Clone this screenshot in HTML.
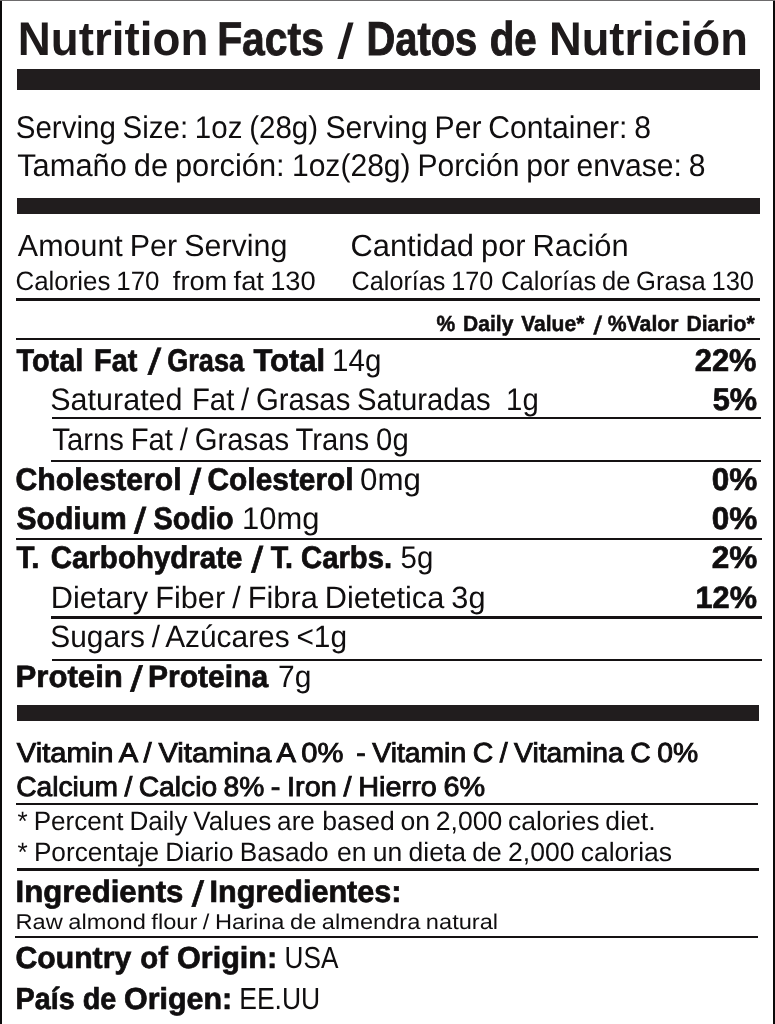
<!DOCTYPE html>
<html lang="en">
<head>
<meta charset="utf-8">
<title>Nutrition Facts / Datos de Nutrición</title>
<style>
html,body{margin:0;padding:0;background:#fff;}
body{width:775px;height:1024px;position:relative;overflow:hidden;font-family:"Liberation Sans", sans-serif;color:#100e0f;}
h1,p,header,section,footer,div{margin:0;padding:0;font:inherit;}
.label{position:absolute;left:0;top:0;width:775px;height:1024px;background:#fff;overflow:hidden;will-change:transform;text-rendering:geometricPrecision;font-family:"Liberation Sans", sans-serif;}
.ink{position:absolute;left:0;top:0;width:775px;height:1024px;filter:blur(0.45px);}
.k{position:absolute;display:block;}
.edge{background:#0b0a0a;}
.edge.top{background:#6d6b6c;}
.bar{background:#211d1e;}
.rule,.hair{background:#151213;}
.t{position:absolute;left:0;top:0;display:block;white-space:pre;line-height:0;height:0;transform-origin:0 0;font-family:"Liberation Sans", sans-serif;}
.b{font-weight:bold;-webkit-text-stroke:0.7px #100e0f;}
.r{font-weight:normal;}
.s{font-weight:normal;-webkit-text-stroke:0.9px #100e0f;}
.h{color:#1e1a1b;-webkit-text-stroke:0;}
</style>
</head>
<body>
<main class="label">
<i class="k edge left" style="left:0.00px;top:0.00px;width:2.20px;height:1024.00px"></i>
<i class="k edge right" style="left:772.80px;top:0.00px;width:2.20px;height:1024.00px"></i>
<i class="k edge top" style="left:0.00px;top:0.00px;width:775.00px;height:1.00px"></i>
<div class="ink">
<header class="title">
<h1 class="row">
<span class="t b h" style="font-size:47.42px;transform:translate(17.80px,40.10px) scaleX(0.9651)">Nutrition </span>
<span class="t b h" style="font-size:47.42px;-webkit-text-stroke:0.90px #1e1a1b;transform:translate(217.16px,40.10px) scaleX(0.8621)">Facts </span>
<span class="t b h" style="font-size:47.42px;transform-origin:0 15.00px;transform:translate(337.00px,42.51px) skewX(-6.2deg) scaleY(1.03)">/ </span>
<span class="t b h" style="font-size:47.42px;-webkit-text-stroke:1.04px #1e1a1b;transform:translate(366.48px,40.10px) scaleX(0.8402)">Datos </span>
<span class="t b h" style="font-size:47.42px;-webkit-text-stroke:0.98px #1e1a1b;transform:translate(489.65px,40.10px) scaleX(0.8497)">de </span>
<span class="t b h" style="font-size:47.42px;transform:translate(548.88px,40.10px) scaleX(0.9565)">Nutrición</span>
</h1>
<i class="k bar" style="left:16.60px;top:68.70px;width:743.90px;height:21.50px"></i>
</header>
<section class="serving">
<p class="row">
<span class="t r" style="font-size:31.42px;word-spacing:-1.57px;transform:translate(15.78px,127.60px) scaleX(0.9395)">Serving Size: 1oz (28g) </span>
<span class="t r" style="font-size:31.42px;word-spacing:-1.59px;transform:translate(325.48px,127.60px) scaleX(0.9598)">Serving Per Container: 8</span>
</p>
<p class="row">
<span class="t r" style="font-size:31.42px;word-spacing:-1.64px;transform:translate(17.18px,166.30px) scaleX(0.9811)">Tamaño de porción: </span>
<span class="t r" style="font-size:31.42px;word-spacing:-1.55px;transform:translate(291.93px,166.30px) scaleX(0.9572)">1oz(28g) Porción por envase: 8</span>
</p>
<i class="k bar" style="left:16.60px;top:198.00px;width:743.90px;height:15.80px"></i>
</section>
<section class="amount">
<div class="row">
<span class="t r" style="font-size:30.55px;word-spacing:-1.44px;transform:translate(17.87px,245.90px) scaleX(0.9965)">Amount Per Serving </span>
<span class="t r" style="font-size:30.55px;word-spacing:-1.53px;transform:translate(350.53px,245.90px) scaleX(1.0094)">Cantidad por Ración</span>
</div>
<div class="row">
<span class="t r" style="font-size:26.62px;word-spacing:-1.33px;transform:translate(15.52px,281.10px) scaleX(0.9725)">Calories 170 </span>
<span class="t r" style="font-size:26.62px;word-spacing:-1.28px;transform:translate(172.80px,281.10px) scaleX(1.0247)">from fat 130 </span>
<span class="t r" style="font-size:26.62px;word-spacing:-1.33px;transform:translate(351.57px,281.10px) scaleX(0.9477)">Calorías 170 </span>
<span class="t r" style="font-size:26.62px;word-spacing:-1.39px;transform:translate(501.09px,281.10px) scaleX(0.9598)">Calorías de Grasa 130</span>
</div>
<i class="k rule" style="left:16.30px;top:297.50px;width:744.20px;height:3.50px"></i>
</section>
<section class="daily-value">
<div class="row">
<span class="t b" style="font-size:21.96px;word-spacing:2.08px;-webkit-text-stroke:0.50px #100e0f;transform:translate(436.59px,324.30px) scaleX(0.9579)">% Daily Value* </span>
<span class="t b" style="font-size:21.96px;-webkit-text-stroke:0.50px #100e0f;transform-origin:0 7.00px;transform:translate(593.20px,326.87px) skewX(-9.0deg) scaleY(1.15)">/ </span>
<span class="t b" style="font-size:21.96px;word-spacing:2.21px;-webkit-text-stroke:0.50px #100e0f;transform:translate(607.85px,324.30px) scaleX(0.9638)">%Valor Diario*</span>
</div>
<i class="k hair" style="left:16.30px;top:337.80px;width:744.20px;height:2.20px"></i>
</section>
<section class="nutrients">
<div class="row">
<span class="t b" style="font-size:31.42px;word-spacing:3.15px;transform:translate(16.52px,360.80px) scaleX(0.9172)">Total Fat </span>
<span class="t b" style="font-size:31.42px;transform-origin:0 10.00px;transform:translate(147.50px,364.47px) skewX(-11.3deg) scaleY(1.15)">/ </span>
<span class="t b" style="font-size:31.42px;transform:translate(167.14px,360.80px) scaleX(0.8636)">Grasa </span>
<span class="t b" style="font-size:31.42px;transform:translate(253.50px,360.80px) scaleX(0.9864)">Total </span>
<span class="t r" style="font-size:31.42px;transform:translate(332.12px,360.80px) scaleX(0.9401)">14g </span>
<span class="t b" style="font-size:31.42px;transform:translate(694.77px,360.80px) scaleX(0.9809)">22%</span>
</div>
<div class="row">
<span class="t r" style="font-size:31.13px;transform:translate(50.27px,400.00px) scaleX(0.9799)">Saturated </span>
<span class="t r" style="font-size:31.13px;word-spacing:-1.48px;transform:translate(191.96px,400.00px) scaleX(0.9410)">Fat / Grasas Saturadas </span>
<span class="t r" style="font-size:31.13px;transform:translate(506.12px,400.00px) scaleX(0.9422)">1g </span>
<span class="t b" style="font-size:31.13px;transform:translate(712.75px,400.00px) scaleX(0.9874)">5%</span>
</div>
<i class="k hair" style="left:51.60px;top:417.00px;width:709.90px;height:2.20px"></i>
<div class="row">
<span class="t r" style="font-size:31.13px;word-spacing:-1.38px;transform:translate(52.25px,439.70px) scaleX(0.9408)">Tarns Fat / Grasas Trans 0g</span>
</div>
<i class="k hair" style="left:50.60px;top:459.90px;width:710.90px;height:2.20px"></i>
<div class="row">
<span class="t b" style="font-size:31.27px;transform:translate(15.53px,480.00px) scaleX(0.9657)">Cholesterol </span>
<span class="t b" style="font-size:31.27px;transform-origin:0 10.00px;transform:translate(189.50px,483.65px) skewX(-7.2deg) scaleY(1.15)">/ </span>
<span class="t b" style="font-size:31.27px;transform:translate(207.54px,480.00px) scaleX(0.9554)">Colesterol </span>
<span class="t r" style="font-size:31.27px;transform:translate(360.00px,480.00px) scaleX(1.0011)">0mg </span>
<span class="t b" style="font-size:31.27px;transform:translate(711.74px,480.00px) scaleX(1.0083)">0%</span>
</div>
<div class="row">
<span class="t b" style="font-size:31.27px;transform:translate(16.50px,519.00px) scaleX(0.9616)">Sodium </span>
<span class="t b" style="font-size:31.27px;transform-origin:0 10.00px;transform:translate(133.75px,522.65px) skewX(-8.8deg) scaleY(1.15)">/ </span>
<span class="t b" style="font-size:31.27px;transform:translate(153.50px,519.00px) scaleX(0.9243)">Sodio </span>
<span class="t r" style="font-size:31.27px;transform:translate(242.02px,519.00px) scaleX(0.9890)">10mg </span>
<span class="t b" style="font-size:31.27px;transform:translate(711.74px,519.00px) scaleX(1.0083)">0%</span>
</div>
<i class="k hair" style="left:16.00px;top:537.50px;width:745.50px;height:2.20px"></i>
<div class="row">
<span class="t b" style="font-size:31.27px;word-spacing:3.16px;transform:translate(16.61px,558.30px) scaleX(0.9429)">T. Carbohydrate </span>
<span class="t b" style="font-size:31.27px;transform-origin:0 10.00px;transform:translate(251.00px,561.95px) skewX(-8.2deg) scaleY(1.15)">/ </span>
<span class="t b" style="font-size:31.27px;transform:translate(270.75px,558.30px) scaleX(0.9168)">T. </span>
<span class="t b" style="font-size:31.27px;transform:translate(301.06px,558.30px) scaleX(0.9353)">Carbs. </span>
<span class="t r" style="font-size:31.27px;transform:translate(400.56px,558.30px) scaleX(0.9417)">5g </span>
<span class="t b" style="font-size:31.27px;transform:translate(711.74px,558.30px) scaleX(1.0083)">2%</span>
</div>
<div class="row">
<span class="t r" style="font-size:30.84px;word-spacing:-1.49px;transform:translate(50.83px,597.80px) scaleX(0.9963)">Dietary Fiber / Fibra Dietetica 3g </span>
<span class="t b" style="font-size:30.84px;transform:translate(695.50px,597.80px) scaleX(0.9952)">12%</span>
</div>
<i class="k hair" style="left:50.50px;top:616.40px;width:711.00px;height:2.20px"></i>
<div class="row">
<span class="t r" style="font-size:30.84px;word-spacing:-1.53px;transform:translate(50.27px,637.10px) scaleX(0.9685)">Sugars / Azúcares &lt;1g</span>
</div>
<i class="k hair" style="left:52.00px;top:658.70px;width:709.50px;height:2.20px"></i>
<div class="row">
<span class="t b" style="font-size:30.84px;transform:translate(15.48px,676.90px) scaleX(1.0111)">Protein </span>
<span class="t b" style="font-size:30.84px;transform-origin:0 10.00px;transform:translate(130.00px,680.50px) skewX(-9.8deg) scaleY(1.15)">/ </span>
<span class="t b" style="font-size:30.84px;transform:translate(148.05px,676.90px) scaleX(0.9738)">Proteina </span>
<span class="t r" style="font-size:30.84px;transform:translate(278.03px,676.90px) scaleX(0.9722)">7g</span>
</div>
</section>
<section class="vitamins">
<i class="k bar" style="left:16.60px;top:705.40px;width:742.40px;height:16.10px"></i>
<div class="row">
<span class="t s" style="font-size:27.49px;word-spacing:-1.18px;transform:translate(16.86px,753.10px) scaleX(1.0609)">Vitamin A / Vitamina A 0% </span>
<span class="t s" style="font-size:27.49px;word-spacing:-1.27px;transform:translate(356.28px,753.10px) scaleX(1.0298)">- Vitamin C / Vitamina C 0%</span>
</div>
<div class="row">
<span class="t s" style="font-size:27.49px;word-spacing:-1.28px;transform:translate(16.15px,787.00px) scaleX(1.0251)">Calcium / Calcio 8% </span>
<span class="t s" style="font-size:27.49px;word-spacing:-1.16px;transform:translate(270.69px,787.00px) scaleX(1.0484)">- Iron / Hierro 6%</span>
</div>
<i class="k hair" style="left:16.00px;top:803.10px;width:742.00px;height:2.20px"></i>
</section>
<section class="footnote">
<p class="row">
<span class="t r" style="font-size:26.47px;word-spacing:-1.31px;transform:translate(17.53px,820.80px) scaleX(0.9852)">* Percent Daily Values are </span>
<span class="t r" style="font-size:26.47px;word-spacing:-1.56px;transform:translate(322.35px,820.80px) scaleX(1.0030)">based on 2,000 calories diet.</span>
</p>
<p class="row">
<span class="t r" style="font-size:26.47px;word-spacing:-1.23px;transform:translate(17.62px,852.20px) scaleX(0.9901)">* Porcentaje Diario Basado </span>
<span class="t r" style="font-size:26.47px;word-spacing:-1.08px;transform:translate(336.94px,852.20px) scaleX(1.0018)">en un dieta de 2,000 calorias</span>
</p>
<i class="k rule" style="left:16.80px;top:868.00px;width:742.20px;height:3.40px"></i>
</section>
<section class="ingredients">
<p class="row">
<span class="t b" style="font-size:30.84px;transform:translate(15.48px,891.90px) scaleX(1.0107)">Ingredients </span>
<span class="t b" style="font-size:30.84px;transform-origin:0 10.00px;transform:translate(191.50px,895.50px) skewX(-9.3deg) scaleY(1.15)">/ </span>
<span class="t b" style="font-size:30.84px;transform:translate(209.52px,891.90px) scaleX(0.9918)">Ingredientes:</span>
</p>
<p class="row">
<span class="t r" style="font-size:21.38px;word-spacing:-0.96px;transform:translate(15.53px,921.80px) scaleX(1.1057)">Raw almond flour / Harina de almendra natural</span>
</p>
<i class="k hair" style="left:15.00px;top:936.10px;width:742.50px;height:2.20px"></i>
</section>
<footer class="origin">
<p class="row">
<span class="t b" style="font-size:30.40px;transform:translate(15.51px,958.00px) scaleX(0.9928)">Country </span>
<span class="t b" style="font-size:30.40px;transform:translate(140.29px,958.00px) scaleX(0.9628)">of </span>
<span class="t b" style="font-size:30.40px;transform:translate(176.99px,958.00px) scaleX(1.0054)">Origin: </span>
<span class="t r" style="font-size:30.40px;transform:translate(284.53px,958.00px) scaleX(0.8617)">USA</span>
</p>
<p class="row">
<span class="t b" style="font-size:30.40px;transform:translate(15.61px,998.70px) scaleX(0.9435)">País </span>
<span class="t b" style="font-size:30.40px;transform:translate(82.80px,998.70px) scaleX(0.9460)">de </span>
<span class="t b" style="font-size:30.40px;transform:translate(124.00px,998.70px) scaleX(1.0006)">Origen: </span>
<span class="t r" style="font-size:30.40px;transform:translate(239.26px,998.70px) scaleX(0.8715)">EE.UU</span>
</p>
</footer>
</div>
</main>
</body>
</html>
